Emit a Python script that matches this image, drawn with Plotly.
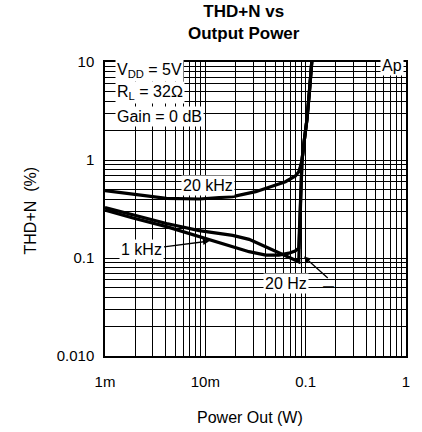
import math
import plotly.graph_objects as go

# ---- data ----
tail_x = [0.092, 0.097, 0.103, 0.109, 0.1145, 0.117]
tail_y = [1.0, 1.6, 2.6, 5.0, 10.0, 12.5]

khz20_x = [0.001, 0.0019, 0.0041, 0.0087, 0.0187, 0.0318, 0.0464, 0.0629, 0.079, 0.0853, 0.0886] + tail_x
khz20_y = [0.486, 0.45, 0.406, 0.40, 0.423, 0.475, 0.535, 0.60, 0.687, 0.76, 0.86] + tail_y

hz20_x = [0.001, 0.0019, 0.0041, 0.0087, 0.0128, 0.0187, 0.0273, 0.040, 0.054, 0.068, 0.0853, 0.0865, 0.0885, 0.0905] + tail_x
hz20_y = [0.327, 0.275, 0.225, 0.19, 0.178, 0.17, 0.155, 0.13, 0.112, 0.102, 0.0916, 0.15, 0.4, 0.75] + tail_y

khz1_x = [0.001, 0.0019, 0.0041, 0.0087, 0.0128, 0.0187, 0.0273, 0.040, 0.054, 0.068, 0.0785, 0.0853, 0.087, 0.089, 0.0905] + tail_x
khz1_y = [0.309, 0.256, 0.209, 0.165, 0.145, 0.130, 0.116, 0.107, 0.107, 0.112, 0.118, 0.126, 0.2, 0.45, 0.75] + tail_y

x_tickvals = [0.001, 0.01, 0.1, 1]
x_ticktext = ["1m", "10m", "0.1", "1"]
y_tickvals = [0.01, 0.1, 1, 10]
y_ticktext = ["0.010", "0.1", "1", "10"]

FONT = "Liberation Sans, Arial, sans-serif"

def minor_vals(lo, hi):
    vals = []
    for e in range(lo, hi):
        for k in range(2, 10):
            vals.append(k * 10 ** e)
    return vals

fig = go.Figure()
for xs, ys, name in [(khz20_x, khz20_y, "20 kHz"), (hz20_x, hz20_y, "20 Hz"), (khz1_x, khz1_y, "1 kHz")]:
    fig.add_trace(go.Scatter(x=xs, y=ys, mode="lines", name=name,
                             line=dict(color="black", width=3.2)))

axis_common = dict(
    type="log", showline=True, mirror=True, linecolor="black", linewidth=1.5,
    showgrid=True, gridcolor="black", gridwidth=1, zeroline=False,
    ticks="", tickfont=dict(family=FONT, size=15, color="black"),
)
fig.update_xaxes(range=[-3, 0], tickvals=x_tickvals, ticktext=x_ticktext,
                 minor=dict(tickvals=minor_vals(-3, 0), showgrid=True, gridcolor="black", gridwidth=1),
                 ticklabelstandoff=11, **axis_common)
fig.update_yaxes(range=[-2, 1], tickvals=y_tickvals, ticktext=y_ticktext,
                 minor=dict(tickvals=minor_vals(-2, 1), showgrid=True, gridcolor="black", gridwidth=1),
                 ticklabelstandoff=6, **axis_common)

L = math.log10
txt = dict(family=FONT, size=16, color="black")
ann = []
# curve labels
ann.append(dict(x=L(0.0107), y=-0.262, xref="x", yref="y", text="20 kHz", showarrow=False,
                bgcolor="white", borderpad=1, font=txt))
ann.append(dict(x=L(0.011), y=-0.827, xref="x", yref="y", text="1 kHz", showarrow=True,
                arrowhead=2, arrowsize=1, arrowwidth=1.3, arrowcolor="black",
                ax=-67.5, ay=8.5, standoff=0, bgcolor="white", borderpad=1, font=txt))
ann.append(dict(x=-1.195, y=-1.265, xref="x", yref="y", text="20 Hz", showarrow=False,
                bgcolor="white", borderpad=1, font=txt))
ann.append(dict(x=-1.017, y=-0.985, xref="x", yref="y", text="\u2014", showarrow=True,
                xanchor="right", arrowhead=2, arrowsize=1, arrowwidth=1.3, arrowcolor="black",
                ax=31, ay=28, standoff=0, borderpad=0,
                font=dict(family=FONT, size=11, color="black")))
# condition text
ann.append(dict(x=-2.90, y=0.918, xref="x", yref="y", xanchor="left", text="V<sub>DD</sub> = 5V",
                showarrow=False, bgcolor="white", borderpad=1, font=txt))
ann.append(dict(x=-2.90, y=0.690, xref="x", yref="y", xanchor="left", text="R<sub>L</sub> = 32\u2126",
                showarrow=False, bgcolor="white", borderpad=1, font=txt))
ann.append(dict(x=-2.90, y=0.449, xref="x", yref="y", xanchor="left", text="Gain = 0 dB",
                showarrow=False, bgcolor="white", borderpad=1, font=txt))
ann.append(dict(x=-0.135, y=0.965, xref="x", yref="y", text="Ap",
                showarrow=False, bgcolor="white", borderpad=1, font=txt))
# title
tfont = dict(family=FONT, size=17, color="black")
ann.append(dict(x=(245 - 105) / 303, y=(356 - 23) / 294, xref="paper", yref="paper",
                text="<b>THD+N vs<br>Output Power</b>", showarrow=False, font=tfont, yanchor="middle"))
# axis titles
ann.append(dict(x=(251 - 105) / 303, y=(356 - 417.5) / 294, xref="paper", yref="paper",
                text="Power Out (W)", showarrow=False, font=txt, yanchor="middle"))
ann.append(dict(x=(30 - 105) / 303, y=(356 - 210) / 294, xref="paper", yref="paper",
                text="THD+N\u00a0\u00a0(%)", showarrow=False, font=txt, textangle=-90,
                xanchor="center", yanchor="middle"))

fig.update_layout(
    width=422, height=432,
    margin=dict(l=105, r=14, t=62, b=76, pad=0),
    paper_bgcolor="white", plot_bgcolor="white",
    showlegend=False,
    annotations=ann,
    font=dict(family=FONT, color="black"),
)

fig.write_html("out.html")
